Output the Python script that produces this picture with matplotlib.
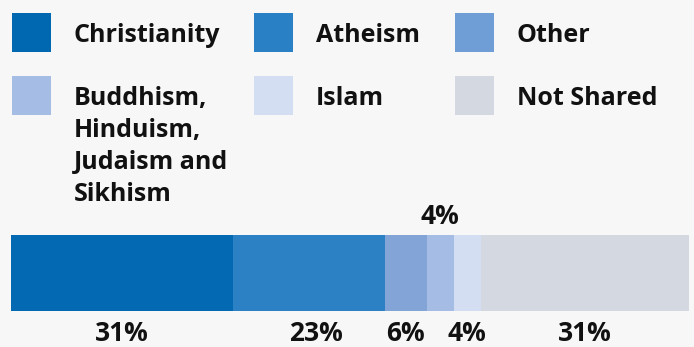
import numpy as np
import matplotlib.pyplot as plt
from matplotlib.patches import Rectangle

# datos
categories = ["Christianity", "Atheism", "Other",
              "Buddhism,\nHinduism,\nJudaism and\nSikhism", "Islam", "Not Shared"]
shares = [32.7, 22.5, 6.1, 4.0, 4.0, 30.7]
labels = ["31%", "23%", "6%", "4%", "4%", "31%"]
above = [False, False, False, True, False, False]
colors = ["#0369b3", "#2b81c4", "#82a4d6", "#a5bce4", "#d3def2", "#d4d8e0"]
legend_colors = ["#0067b1", "#2a80c5", "#6f9dd6", "#a5bce4", "#d3def2", "#d4d8e0"]

plt.rcParams['font.family'] = ['Open Sans', 'DejaVu Sans']
bg = "#f7f7f7"
W, H = 694, 347

fig = plt.figure(figsize=(W / 100, H / 100), dpi=100, facecolor=bg)

# capa para la leyenda, en pixeles
lay = fig.add_axes([0, 0, 1, 1])
lay.set_xlim(0, W)
lay.set_ylim(H, 0)
lay.axis('off')

col_x = [12, 254, 455]
row_y = [13, 76]
for i, (cat, c) in enumerate(zip(categories, legend_colors)):
    x0 = col_x[i % 3]
    y0 = row_y[i // 3]
    lay.add_patch(Rectangle((x0, y0), 39, 39, color=c, lw=0))
    lay.text(x0 + 62, y0 + 10, cat, fontsize=18, fontweight='bold',
             va='top', ha='left', color='#111111', linespacing=1.36)

# barra apilada
ax = fig.add_axes([11 / W, (H - 311) / H, 678 / W, 76 / H])
ax.set_facecolor(bg)
left = np.concatenate([[0], np.cumsum(shares)[:-1]])
ax.barh(0, shares, left=left, height=1, color=colors, lw=0)
ax.set_xlim(0, sum(shares))
ax.set_ylim(-0.5, 0.5)
ax.axis('off')

nudge = {1: 7}  # el 23% va un poco a la derecha en el original
for i, (l, w, lab, up) in enumerate(zip(left, shares, labels, above)):
    y = 1.25 if up else -0.29
    ax.annotate(lab, (l + w / 2, y), xycoords=ax.get_xaxis_transform(),
                xytext=(nudge.get(i, 0) * 0.72, 0), textcoords='offset points',
                ha='center', va='center', fontsize=19, fontweight='bold', color='#111111')

plt.savefig("out.png", dpi=100, facecolor=bg)
